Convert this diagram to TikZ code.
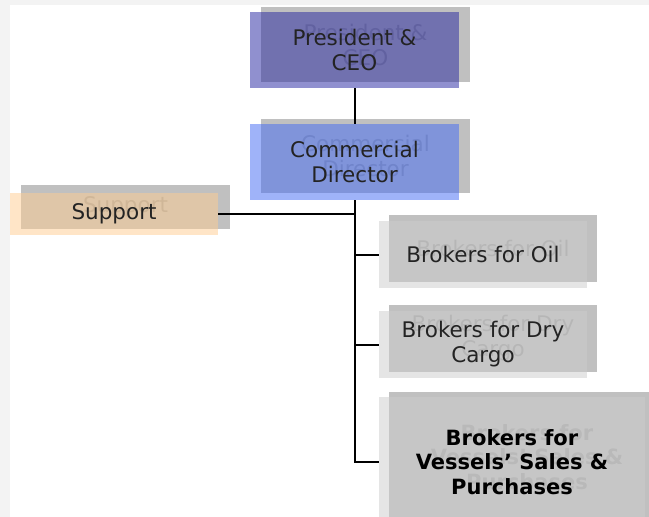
\documentclass[tikz,border=0pt]{standalone}
\usepackage{fontspec}
\setmainfont{DejaVu Sans}
\definecolor{pageedge}{RGB}{243,243,243}
\definecolor{shadowgrey}{RGB}{192,192,192}
\definecolor{ghost}{RGB}{160,160,160}
\definecolor{ink}{RGB}{35,35,35}
\definecolor{ceofill}{RGB}{35,35,160}
\definecolor{dirfill}{RGB}{65,105,245}
\definecolor{supfill}{RGB}{255,205,145}
\definecolor{brkfill}{RGB}{205,205,205}
\newcommand{\boxfont}{\fontsize{21.5}{25}\selectfont}
\newcommand{\boldboxfont}{\fontsize{21}{24.5}\selectfont\bfseries}
\tikzset{
  backbox/.style={rectangle, inner sep=0pt, fill=shadowgrey, text=ghost,
    align=center, font=\boxfont},
  frontbox/.style={rectangle, inner sep=0pt, fill opacity=0.5, text opacity=1,
    text=ink, align=center, font=\boxfont},
  link/.style={draw=black, line width=2pt}
}
\begin{document}
\begin{tikzpicture}[x=1pt, y=-1pt]
  \useasboundingbox (0,0) rectangle (649,517);
  \clip (0,0) rectangle (649,517);
  % page with a pale outer edge
  \fill[pageedge] (0,0) rectangle (649,517);
  \fill[white] (10,5) rectangle (649,517);

  % offset back layers with their faint captions
  \node[backbox, minimum width=209pt, minimum height=75pt] (ceoB) at (365.5,44.5) {President \&\\CEO};
  \node[backbox, minimum width=209pt, minimum height=74pt] (dirB) at (365.5,156) {Commercial\\Director};
  \node[backbox, minimum width=209pt, minimum height=44pt] (supB) at (125.5,207) {Support};
  \node[backbox, minimum width=208pt, minimum height=67pt] (oilB) at (493,248.5) {Brokers for Oil};
  \node[backbox, minimum width=208pt, minimum height=67pt] (dryB) at (493,338.5) {Brokers for Dry\\Cargo};
  \node[backbox, font=\boldboxfont, text=ghost!85!shadowgrey, minimum width=276pt, minimum height=130pt] (vesB) at (527,457) {Brokers for\\Vessels’ Sales \&\\Purchases};

  % translucent front layers with the captions
  \node[frontbox, fill=ceofill, minimum width=209pt, minimum height=76pt] (ceo) at (354.5,50) {President \&\\CEO};
  \node[frontbox, fill=dirfill, minimum width=209pt, minimum height=76pt] (dir) at (354.5,162) {Commercial\\Director};
  \node[frontbox, fill=supfill, minimum width=208pt, minimum height=42pt] (sup) at (114,214) {Support};
  \node[frontbox, fill=brkfill, minimum width=208pt, minimum height=67pt] (oil) at (483,254.5) {Brokers for Oil};
  \node[frontbox, fill=brkfill, minimum width=208pt, minimum height=67pt] (dry) at (483,344.5) {Brokers for Dry\\Cargo};
  \node[frontbox, fill=brkfill, text=black, font=\boldboxfont, minimum width=266pt, minimum height=130pt] (ves) at (512,462) {Brokers for\\Vessels’ Sales \&\\Purchases};

  % reporting lines
  \draw[link] (ceo.south) -- (dir.north);
  \draw[link] (dir.south) |- (sup.east);
  \draw[link] (dir.south) |- (oil.west);
  \draw[link] (dir.south) |- (dry.west);
  \draw[link] (dir.south) |- (ves.west);
\end{tikzpicture}
\end{document}
